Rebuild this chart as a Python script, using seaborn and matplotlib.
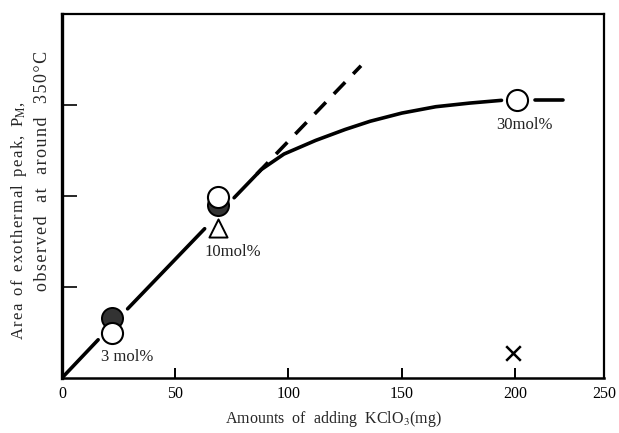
import numpy as np
import pandas as pd
import matplotlib
matplotlib.use("Agg")
import matplotlib.pyplot as plt
import seaborn as sns

# Solid curve, drawn as separate pieces (broken around markers)
curve_seg = [1, 1,
             2, 2,
             3, 3, 3, 3, 3, 3, 3, 3, 3, 3,
             4, 4]
curve_x = [0, 16,
           29, 63,
           76, 88, 98, 112, 125, 136, 150, 165, 180, 194,
           209, 221]
curve_y = [0.0, 0.42,
           0.76, 1.64,
           1.98, 2.29, 2.46, 2.61, 2.73, 2.82, 2.91, 2.98, 3.02, 3.05,
           3.05, 3.05]

# Dashed extrapolation of the initial linear part
dash_x = [86, 132]
dash_y = [2.24, 3.43]

# Measured points
open_x = [22, 69, 201]
open_y = [0.49, 1.99, 3.05]
filled_x = [22, 69]
filled_y = [0.66, 1.90]
tri_x = [69]
tri_y = [1.65]
cross_x = [199]
cross_y = [0.27]

# Composition labels
lab_text = ["3 mol%", "10mol%", "30mol%"]
lab_x = [29, 75.5, 204]
lab_y = [0.23, 1.38, 2.78]

xtick_vals = [0, 50, 100, 150, 200, 239.3]
xtick_labels = ["0", "50", "100", "150", "200", "250"]
ytick_vals = [1, 2, 3]


def spaced(s):
    """Letter-spaced text: hair spaces between characters."""
    return "\u200a".join(s)


sns.set_theme(style="white")
plt.rcParams["font.family"] = ["Liberation Serif", "DejaVu Serif"]
plt.rcParams["mathtext.fontset"] = "stix"

fig = plt.figure(figsize=(6.19, 4.33), dpi=100)
ax = fig.add_axes([0.100, 0.127, 0.876, 0.841])

curve = pd.DataFrame({"x": curve_x, "y": curve_y, "seg": curve_seg})
sns.lineplot(data=curve, x="x", y="y", units="seg", estimator=None, sort=False,
             color="black", linewidth=2.6, ax=ax, zorder=2)

dash = pd.DataFrame({"x": dash_x, "y": dash_y})
sns.lineplot(data=dash, x="x", y="y", color="black", linewidth=2.6, ax=ax,
             dashes=False, zorder=2).lines[-1].set_dashes([4.5, 3.2])

sns.scatterplot(x=filled_x, y=filled_y, marker="o", s=230, color="#333333",
                edgecolor="black", linewidth=1.4, ax=ax, zorder=3)
sns.scatterplot(x=open_x, y=open_y, marker="o", s=230, color="white",
                edgecolor="black", linewidth=1.5, ax=ax, zorder=4)
sns.scatterplot(x=tri_x, y=tri_y, marker="^", s=170, color="white",
                edgecolor="black", linewidth=1.4, ax=ax, zorder=4)
sns.scatterplot(x=cross_x, y=cross_y, marker="x", s=110, color="black",
                linewidth=1.8, ax=ax, zorder=4)

for t, x, y in zip(lab_text, lab_x, lab_y):
    ax.text(x, y, t, ha="center", va="center", fontsize=12, color="#222222")

ax.set_xlim(0, 239.3)
ax.set_ylim(0, 4.0)
ax.set_xticks(xtick_vals)
ax.set_xticklabels(xtick_labels)
ax.set_yticks(ytick_vals)
ax.set_yticklabels([])
ax.tick_params(axis="x", direction="in", length=7, width=1.4, labelsize=11.5,
               bottom=True, pad=6, colors="black")
ax.tick_params(axis="y", direction="in", length=11, width=1.4, left=True)
for side, sp in ax.spines.items():
    sp.set_color("black")
    sp.set_linewidth(1.6)
ax.spines["left"].set_linewidth(2.4)
ax.spines["bottom"].set_linewidth(1.8)

ax.set_xlabel(r"Amounts  of  adding  KClO$_3$(mg)", fontsize=11.5, labelpad=5)
ax.set_ylabel("")

line1 = ("  ".join(spaced(w) for w in ["Area", "of", "exothermal", "peak,"])
         + "  P$_{\\rm M}$,")
line2 = "   ".join(spaced(w) for w in ["observed", "at", "around", "350°C"])
fig.text(0.030, 0.49, line1, rotation=90, ha="center", va="center", fontsize=12)
fig.text(0.069, 0.605, line2, rotation=90, ha="center", va="center", fontsize=13)

fig.savefig("out.png", dpi=100)
